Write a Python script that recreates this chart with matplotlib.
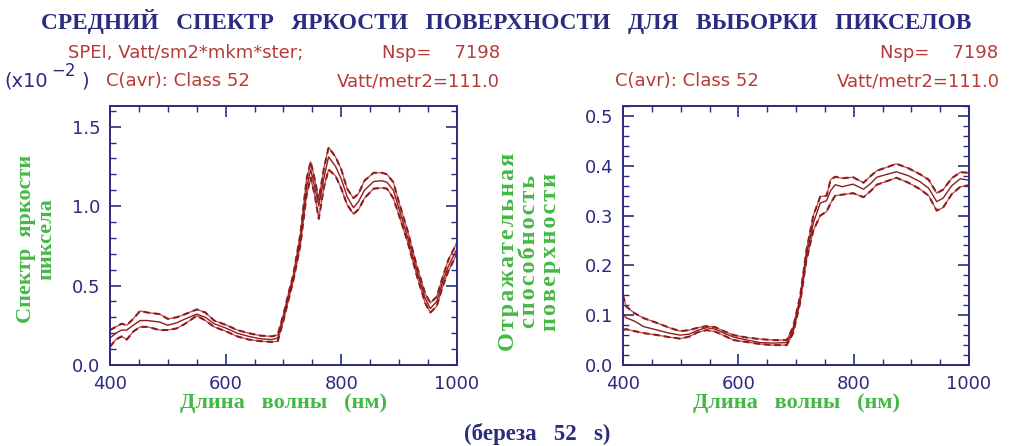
import numpy as np
import matplotlib.pyplot as plt
from matplotlib.ticker import MultipleLocator

# левый график: спектр яркости пиксела (x10^-2)
wl_l = [400, 410, 420, 429, 440, 452, 465, 486, 500, 515, 530, 550, 565, 580,
        602, 620, 640, 660, 680, 690, 700, 710, 717, 729, 740, 747, 754, 761,
        770, 778, 790, 800, 810, 821, 830, 840, 856, 870, 879, 890, 900, 915,
        930, 945, 954, 965, 975, 985, 1000]
sp_mean = [0.17, 0.20, 0.22, 0.22, 0.25, 0.28, 0.28, 0.27, 0.25, 0.265, 0.29, 0.32, 0.30, 0.26,
           0.23, 0.20, 0.18, 0.165, 0.16, 0.17, 0.30, 0.45, 0.55, 0.78, 1.12, 1.23, 1.12, 1.00,
           1.18, 1.31, 1.25, 1.17, 1.06, 0.99, 1.03, 1.10, 1.155, 1.16, 1.15, 1.10, 0.98, 0.80,
           0.60, 0.42, 0.355, 0.40, 0.52, 0.62, 0.73]
sp_up = [0.22, 0.24, 0.26, 0.25, 0.29, 0.34, 0.33, 0.32, 0.29, 0.30, 0.32, 0.35, 0.33, 0.28,
         0.25, 0.22, 0.20, 0.185, 0.18, 0.19, 0.32, 0.47, 0.57, 0.82, 1.17, 1.28, 1.17, 1.04,
         1.24, 1.37, 1.31, 1.23, 1.11, 1.05, 1.08, 1.16, 1.21, 1.21, 1.20, 1.15, 1.02, 0.84,
         0.63, 0.45, 0.39, 0.43, 0.55, 0.66, 0.77]
sp_lo = [0.115, 0.16, 0.18, 0.16, 0.21, 0.24, 0.24, 0.22, 0.22, 0.23, 0.26, 0.31, 0.28, 0.24,
         0.21, 0.18, 0.16, 0.15, 0.145, 0.15, 0.28, 0.43, 0.53, 0.75, 1.07, 1.18, 1.07, 0.92,
         1.12, 1.23, 1.19, 1.11, 1.01, 0.95, 0.98, 1.05, 1.11, 1.115, 1.11, 1.05, 0.94, 0.77,
         0.57, 0.39, 0.33, 0.37, 0.49, 0.59, 0.70]

# правый график: отражательная способность поверхности
wl_r = [400, 405, 420, 436, 460, 480, 499, 515, 530, 545, 560, 575, 592, 615,
        638, 660, 684, 695, 707, 718, 730, 742, 753, 760, 768, 780, 799, 817,
        830, 840, 855, 874, 895, 915, 930, 944, 955, 970, 985, 1000]
rf_mean = [0.104, 0.095, 0.088, 0.077, 0.070, 0.064, 0.060, 0.062, 0.070, 0.075, 0.072, 0.064, 0.056, 0.050,
           0.045, 0.044, 0.045, 0.070, 0.130, 0.220, 0.285, 0.325, 0.330, 0.350, 0.362, 0.358, 0.363, 0.353,
           0.365, 0.377, 0.382, 0.388, 0.380, 0.368, 0.355, 0.328, 0.335, 0.360, 0.374, 0.371]
rf_up = [0.140, 0.118, 0.104, 0.094, 0.084, 0.075, 0.068, 0.070, 0.075, 0.078, 0.076, 0.068, 0.060, 0.055,
         0.052, 0.050, 0.050, 0.076, 0.137, 0.230, 0.300, 0.338, 0.340, 0.372, 0.378, 0.375, 0.377, 0.366,
         0.380, 0.390, 0.396, 0.404, 0.395, 0.383, 0.372, 0.345, 0.352, 0.375, 0.387, 0.386]
rf_lo = [0.070, 0.072, 0.068, 0.064, 0.060, 0.056, 0.053, 0.057, 0.066, 0.070, 0.067, 0.059, 0.050, 0.046,
         0.042, 0.040, 0.040, 0.064, 0.124, 0.210, 0.270, 0.300, 0.308, 0.325, 0.340, 0.342, 0.345, 0.337,
         0.350, 0.362, 0.368, 0.376, 0.366, 0.353, 0.340, 0.310, 0.316, 0.343, 0.358, 0.361]

navy = '#2b2b80'
red = '#b83a36'
dred = '#8a1f1f'
green = '#44b844'
sans = 'DejaVu Sans'
serif = 'Liberation Serif'


def spaced(s):
    # разрядка букв узким пробелом
    return '\u200a'.join(s)


fig = plt.figure(figsize=(10.13, 4.46), dpi=100)
axL = fig.add_axes([0.1086, 0.1816, 0.3425, 0.5807])
axR = fig.add_axes([0.615, 0.1816, 0.3416, 0.5807])

for ax, x, m, up, lo in [(axL, wl_l, sp_mean, sp_up, sp_lo), (axR, wl_r, rf_mean, rf_up, rf_lo)]:
    for b in (up, lo):
        ax.plot(x, b, color='#d04040', lw=0.9)
        ax.plot(x, b, color=dred, lw=1.5, ls=(0, (3, 2)))
    ax.plot(x, m, color=dred, lw=1.0)
    ax.set_xlim(400, 1000)
    ax.xaxis.set_major_locator(MultipleLocator(200))
    ax.xaxis.set_minor_locator(MultipleLocator(50))
    ax.tick_params(which='both', direction='in', top=True, right=True, colors=navy,
                   labelsize=13, pad=7)
    ax.tick_params(which='major', length=8, width=1.2)
    ax.tick_params(which='minor', length=4, width=1.0)
    for s in ax.spines.values():
        s.set_color(navy)
        s.set_linewidth(1.4)
    ax.set_xlabel('Длина   волны   (нм)', family=serif, fontweight='bold', fontsize=16,
                  color=green, labelpad=0)

axL.set_ylim(0, 1.63)
axL.yaxis.set_major_locator(MultipleLocator(0.5))
axL.yaxis.set_minor_locator(MultipleLocator(0.1))
axL.yaxis.set_major_formatter(lambda v, p: f'{v:.1f}')
axR.set_ylim(0, 0.52)
axR.yaxis.set_major_locator(MultipleLocator(0.1))
axR.yaxis.set_minor_locator(MultipleLocator(0.02))
axR.yaxis.set_major_formatter(lambda v, p: f'{v:.1f}')
for ax in (axL, axR):
    for lab in ax.get_xticklabels() + ax.get_yticklabels():
        lab.set_family(sans)

fig.text(0.036, 0.464, 'Спектр  яркости\nпиксела', rotation=90, ha='center', va='center',
         family=serif, fontweight='bold', fontsize=16, color=green, linespacing=1.05)
fig.text(0.523, 0.435, '\n'.join(spaced(w) for w in ['Отражательная', 'способность', 'поверхности']),
         rotation=90, ha='center', va='center', family=serif, fontweight='bold', fontsize=17.5,
         color=green, linespacing=1.0)

fig.text(0.5, 0.952, 'СРЕДНИЙ   СПЕКТР   ЯРКОСТИ   ПОВЕРХНОСТИ   ДЛЯ   ВЫБОРКИ   ПИКСЕЛОВ',
         ha='center', va='center', family=serif, fontweight='bold', fontsize=16.8, color=navy)
fig.text(0.53, 0.026, '(береза   52   s)', ha='center', va='center', family=serif,
         fontweight='bold', fontsize=16.5, color=navy)

fs = 13
fig.text(0.067, 0.881, 'SPEI, Vatt/sm2*mkm*ster;', ha='left', va='center', family=sans,
         fontsize=fs, color=red)
fig.text(0.494, 0.881, 'Nsp=    7198', ha='right', va='center', family=sans, fontsize=fs, color=red)
# множитель оси (x10^-2)
fig.text(0.004, 0.818, '(x10', ha='left', va='center', family=sans, fontsize=14, color=navy)
fig.text(0.051, 0.840, '\u22122', ha='left', va='center', family=sans, fontsize=12, color=navy)
fig.text(0.080, 0.818, ')', ha='left', va='center', family=sans, fontsize=14, color=navy)
fig.text(0.105, 0.818, 'C(avr): Class 52', ha='left', va='center', family=sans, fontsize=fs, color=red)
fig.text(0.493, 0.818, 'Vatt/metr2=111.0', ha='right', va='center', family=sans, fontsize=fs, color=red)

fig.text(0.985, 0.881, 'Nsp=    7198', ha='right', va='center', family=sans, fontsize=fs, color=red)
fig.text(0.607, 0.818, 'C(avr): Class 52', ha='left', va='center', family=sans, fontsize=fs, color=red)
fig.text(0.987, 0.818, 'Vatt/metr2=111.0', ha='right', va='center', family=sans, fontsize=fs, color=red)

fig.savefig('out.png', dpi=100)
